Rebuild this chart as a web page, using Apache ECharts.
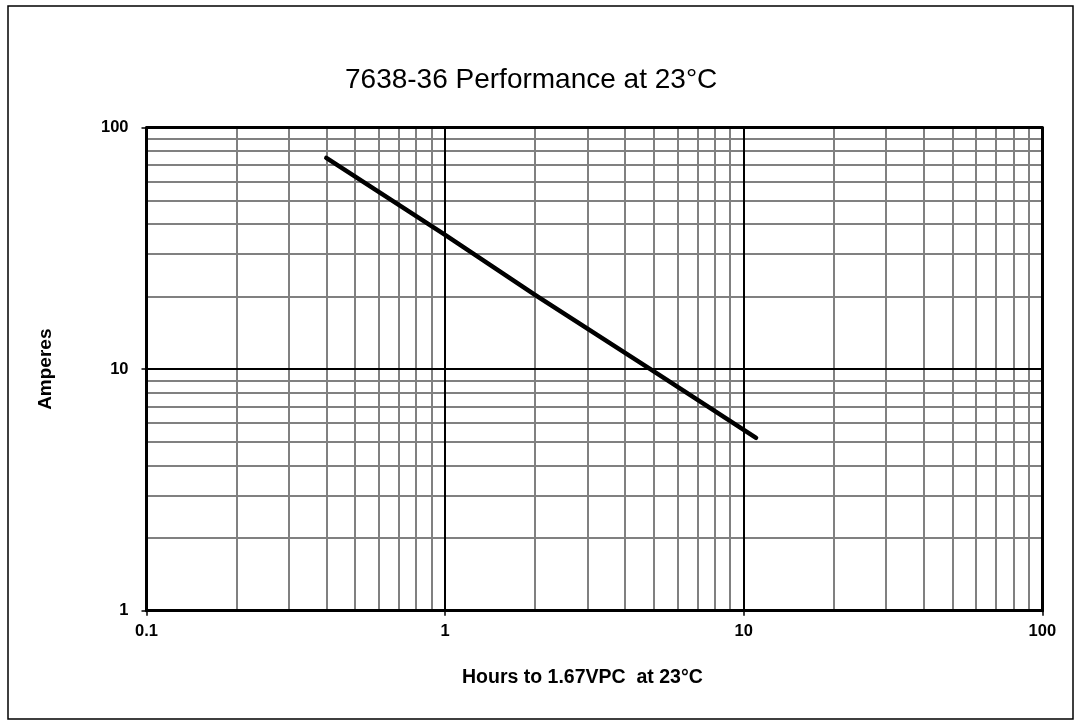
<!DOCTYPE html>
<html>
<head>
<meta charset="utf-8">
<script src="https://cdn.jsdelivr.net/npm/echarts@6/dist/echarts.min.js"></script>
<style>html,body{margin:0;padding:0;background:#fff}#c{width:1081px;height:727px}</style>
</head>
<body>
<div id="c"></div>
<script>
// Data
const hours = [0.4, 1, 2, 5, 11];
const amps  = [75, 36, 20.3, 9.8, 5.2];
// Log grid values
const xMajor = [1, 10];
const yMajor = [10];
const xMinor = [0.2,0.3,0.4,0.5,0.6,0.7,0.8,0.9, 2,3,4,5,6,7,8,9, 20,30,40,50,60,70,80,90];
const yMinor = [2,3,4,5,6,7,8,9, 20,30,40,50,60,70,80,90];

const titleText = '7638-36 Performance at 23°C';
const xName = 'Hours to 1.67VPC  at 23°C';
const yName = 'Amperes';

const FONT = '"Liberation Sans", Arial, sans-serif';
const chart = echarts.init(document.getElementById('c'), null, {renderer: 'canvas'});

function gridLines(vals, key) { return vals.map(v => ({[key]: v})); }

const lblFmt = v => String(+Number(v).toPrecision(3));

chart.setOption({
  animation: false,
  backgroundColor: '#fff',
  title: {
    text: titleText, left: 345, top: 66, padding: 0,
    textStyle: {fontFamily: FONT, fontSize: 28, fontWeight: 'normal', color: '#000'}
  },
  graphic: [{
    type: 'rect', z: 0, silent: true,
    shape: {x: 8, y: 6, width: 1065, height: 713},
    style: {fill: 'none', stroke: '#000', lineWidth: 1.5}
  }],
  grid: {left: 146.5, right: 38.7, top: 127.7, bottom: 116.3},
  xAxis: [{
    type: 'log', logBase: 10, min: 0.1, max: 100, z: 20,
    name: xName, nameLocation: 'middle', nameGap: 57,
    nameTextStyle: {fontFamily: FONT, fontSize: 19.5, fontWeight: 'bold', color: '#000', padding: [0, 24, 0, 0]},
    axisLine: {show: true, lineStyle: {color: '#000', width: 3}},
    axisTick: {show: true, length: 5, lineStyle: {color: '#000', width: 1.5}},
    minorTick: {show: false},
    splitLine: {show: false},
    axisLabel: {margin: 12, fontFamily: FONT, fontSize: 16.5, fontWeight: 'bold', color: '#000', formatter: lblFmt}
  }, {
    type: 'log', logBase: 10, min: 0.1, max: 100, position: 'top', z: 20,
    axisLine: {show: true, onZero: false, lineStyle: {color: '#000', width: 3}},
    axisTick: {show: false}, axisLabel: {show: false}, splitLine: {show: false}
  }],
  yAxis: [{
    type: 'log', logBase: 10, min: 1, max: 100, z: 20,
    name: yName, nameLocation: 'middle', nameGap: 91,
    nameTextStyle: {fontFamily: FONT, fontSize: 19, fontWeight: 'bold', color: '#000'},
    axisLine: {show: true, lineStyle: {color: '#000', width: 3}},
    axisTick: {show: true, length: 5, lineStyle: {color: '#000', width: 1.5}},
    splitLine: {show: false},
    axisLabel: {margin: 18, fontFamily: FONT, fontSize: 16.5, fontWeight: 'bold', color: '#000', formatter: lblFmt}
  }, {
    type: 'log', logBase: 10, min: 1, max: 100, position: 'right', z: 20,
    axisLine: {show: true, onZero: false, lineStyle: {color: '#000', width: 3}},
    axisTick: {show: false}, axisLabel: {show: false}, splitLine: {show: false}
  }],
  series: [{
    type: 'line', data: [], z: 1, silent: true,
    markLine: {
      z: 1,
      silent: true, symbol: 'none', animation: false,
      label: {show: false},
      lineStyle: {color: '#808080', width: 2, type: 'solid'},
      data: gridLines(xMinor, 'xAxis').concat(gridLines(yMinor, 'yAxis'))
    }
  }, {
    type: 'line', data: [], z: 2, silent: true,
    markLine: {
      z: 2,
      silent: true, symbol: 'none', animation: false,
      label: {show: false},
      lineStyle: {color: '#000', width: 2, type: 'solid'},
      data: gridLines(xMajor, 'xAxis').concat(gridLines(yMajor, 'yAxis'))
    }
  }, {
    type: 'line', z: 10,
    data: hours.map((h, i) => [h, amps[i]]),
    showSymbol: false, symbol: 'none', smooth: false,
    lineStyle: {color: '#000', width: 4.5, cap: 'round', join: 'round'}
  }]
});
</script>
</body>
</html>
